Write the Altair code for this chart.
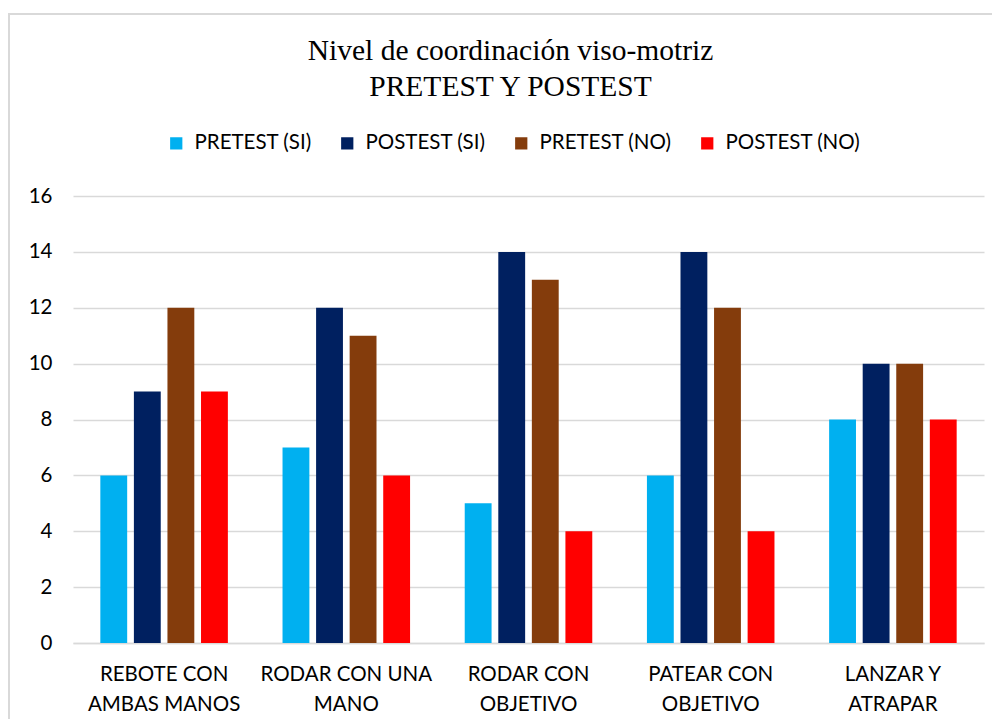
import altair as alt
import pandas as pd

categories = [
    "REBOTE CON\nAMBAS MANOS",
    "RODAR CON UNA\nMANO",
    "RODAR CON\nOBJETIVO",
    "PATEAR CON\nOBJETIVO",
    "LANZAR Y\nATRAPAR",
]
series = ["PRETEST (SI)", "POSTEST (SI)", "PRETEST (NO)", "POSTEST (NO)"]
pretest_si = [6, 7, 5, 6, 8]
postest_si = [9, 12, 14, 14, 10]
pretest_no = [12, 11, 13, 12, 10]
postest_no = [9, 6, 4, 4, 8]
colors = ["#00B0F0", "#002060", "#843C0C", "#FF0000"]

rows = []
for s, vals in zip(series, [pretest_si, postest_si, pretest_no, postest_no]):
    for c, v in zip(categories, vals):
        rows.append({"categoria": c, "serie": s, "valor": v})
df = pd.DataFrame(rows)

W, H = 911, 447
FONT = "Lato"
FS = 20.5

bars = alt.Chart(df).mark_bar().encode(
    x=alt.X("categoria:N", sort=categories, title=None,
            scale=alt.Scale(paddingInner=0.3, paddingOuter=0.15),
            axis=alt.Axis(labelAngle=0, labelFontSize=FS, labelFont=FONT,
                          labelColor="#000000", labelLineHeight=30,
                          labelPadding=21, ticks=False, domainColor="#D9D9D9",
                          domainWidth=1.5, labelLimit=300,
                          labelExpr="split(datum.label, '\\n')")),
    xOffset=alt.XOffset("serie:N", sort=series,
                        scale=alt.Scale(paddingInner=0.2, paddingOuter=0)),
    y=alt.Y("valor:Q", title=None,
            scale=alt.Scale(domain=[0, 16], nice=False),
            axis=alt.Axis(values=list(range(0, 17, 2)), labelFontSize=FS,
                          labelFont=FONT, labelColor="#000000",
                          labelPadding=21, ticks=False, domain=False,
                          gridColor="#D9D9D9", gridWidth=1.5)),
    color=alt.Color("serie:N", sort=series,
                    scale=alt.Scale(domain=series, range=colors),
                    legend=alt.Legend(title=None, orient="none",
                                      direction="horizontal",
                                      legendX=93, legendY=-63,
                                      symbolType="square", symbolSize=150,
                                      symbolStrokeWidth=0,
                                      labelFontSize=FS, labelFont=FONT,
                                      labelColor="#000000",
                                      columnPadding=25, labelOffset=8,
                                      padding=0)),
)

border = alt.Chart(pd.DataFrame({"b": [0]})).mark_rect(
    fill=None, stroke="#D9D9D9", strokeWidth=2
).encode(
    x=alt.value(-64), x2=alt.value(1000),
    y=alt.value(-182), y2=alt.value(800),
)

chart = alt.layer(border, bars).properties(
    width=W, height=H,
    autosize=alt.AutoSizeParams(type="none"),
    padding={"left": 65, "top": 188, "right": 8, "bottom": 76},
    title=alt.Title(["Nivel de coordinación viso-motriz", "PRETEST Y POSTEST"],
                    font="Liberation Serif", fontSize=29.5, fontWeight="normal",
                    color="#000000", lineHeight=36, anchor="middle",
                    dx=-18, offset=-89),
).configure_view(stroke=None)

chart.save("out.html", embed_options={"renderer": "svg", "actions": False})
